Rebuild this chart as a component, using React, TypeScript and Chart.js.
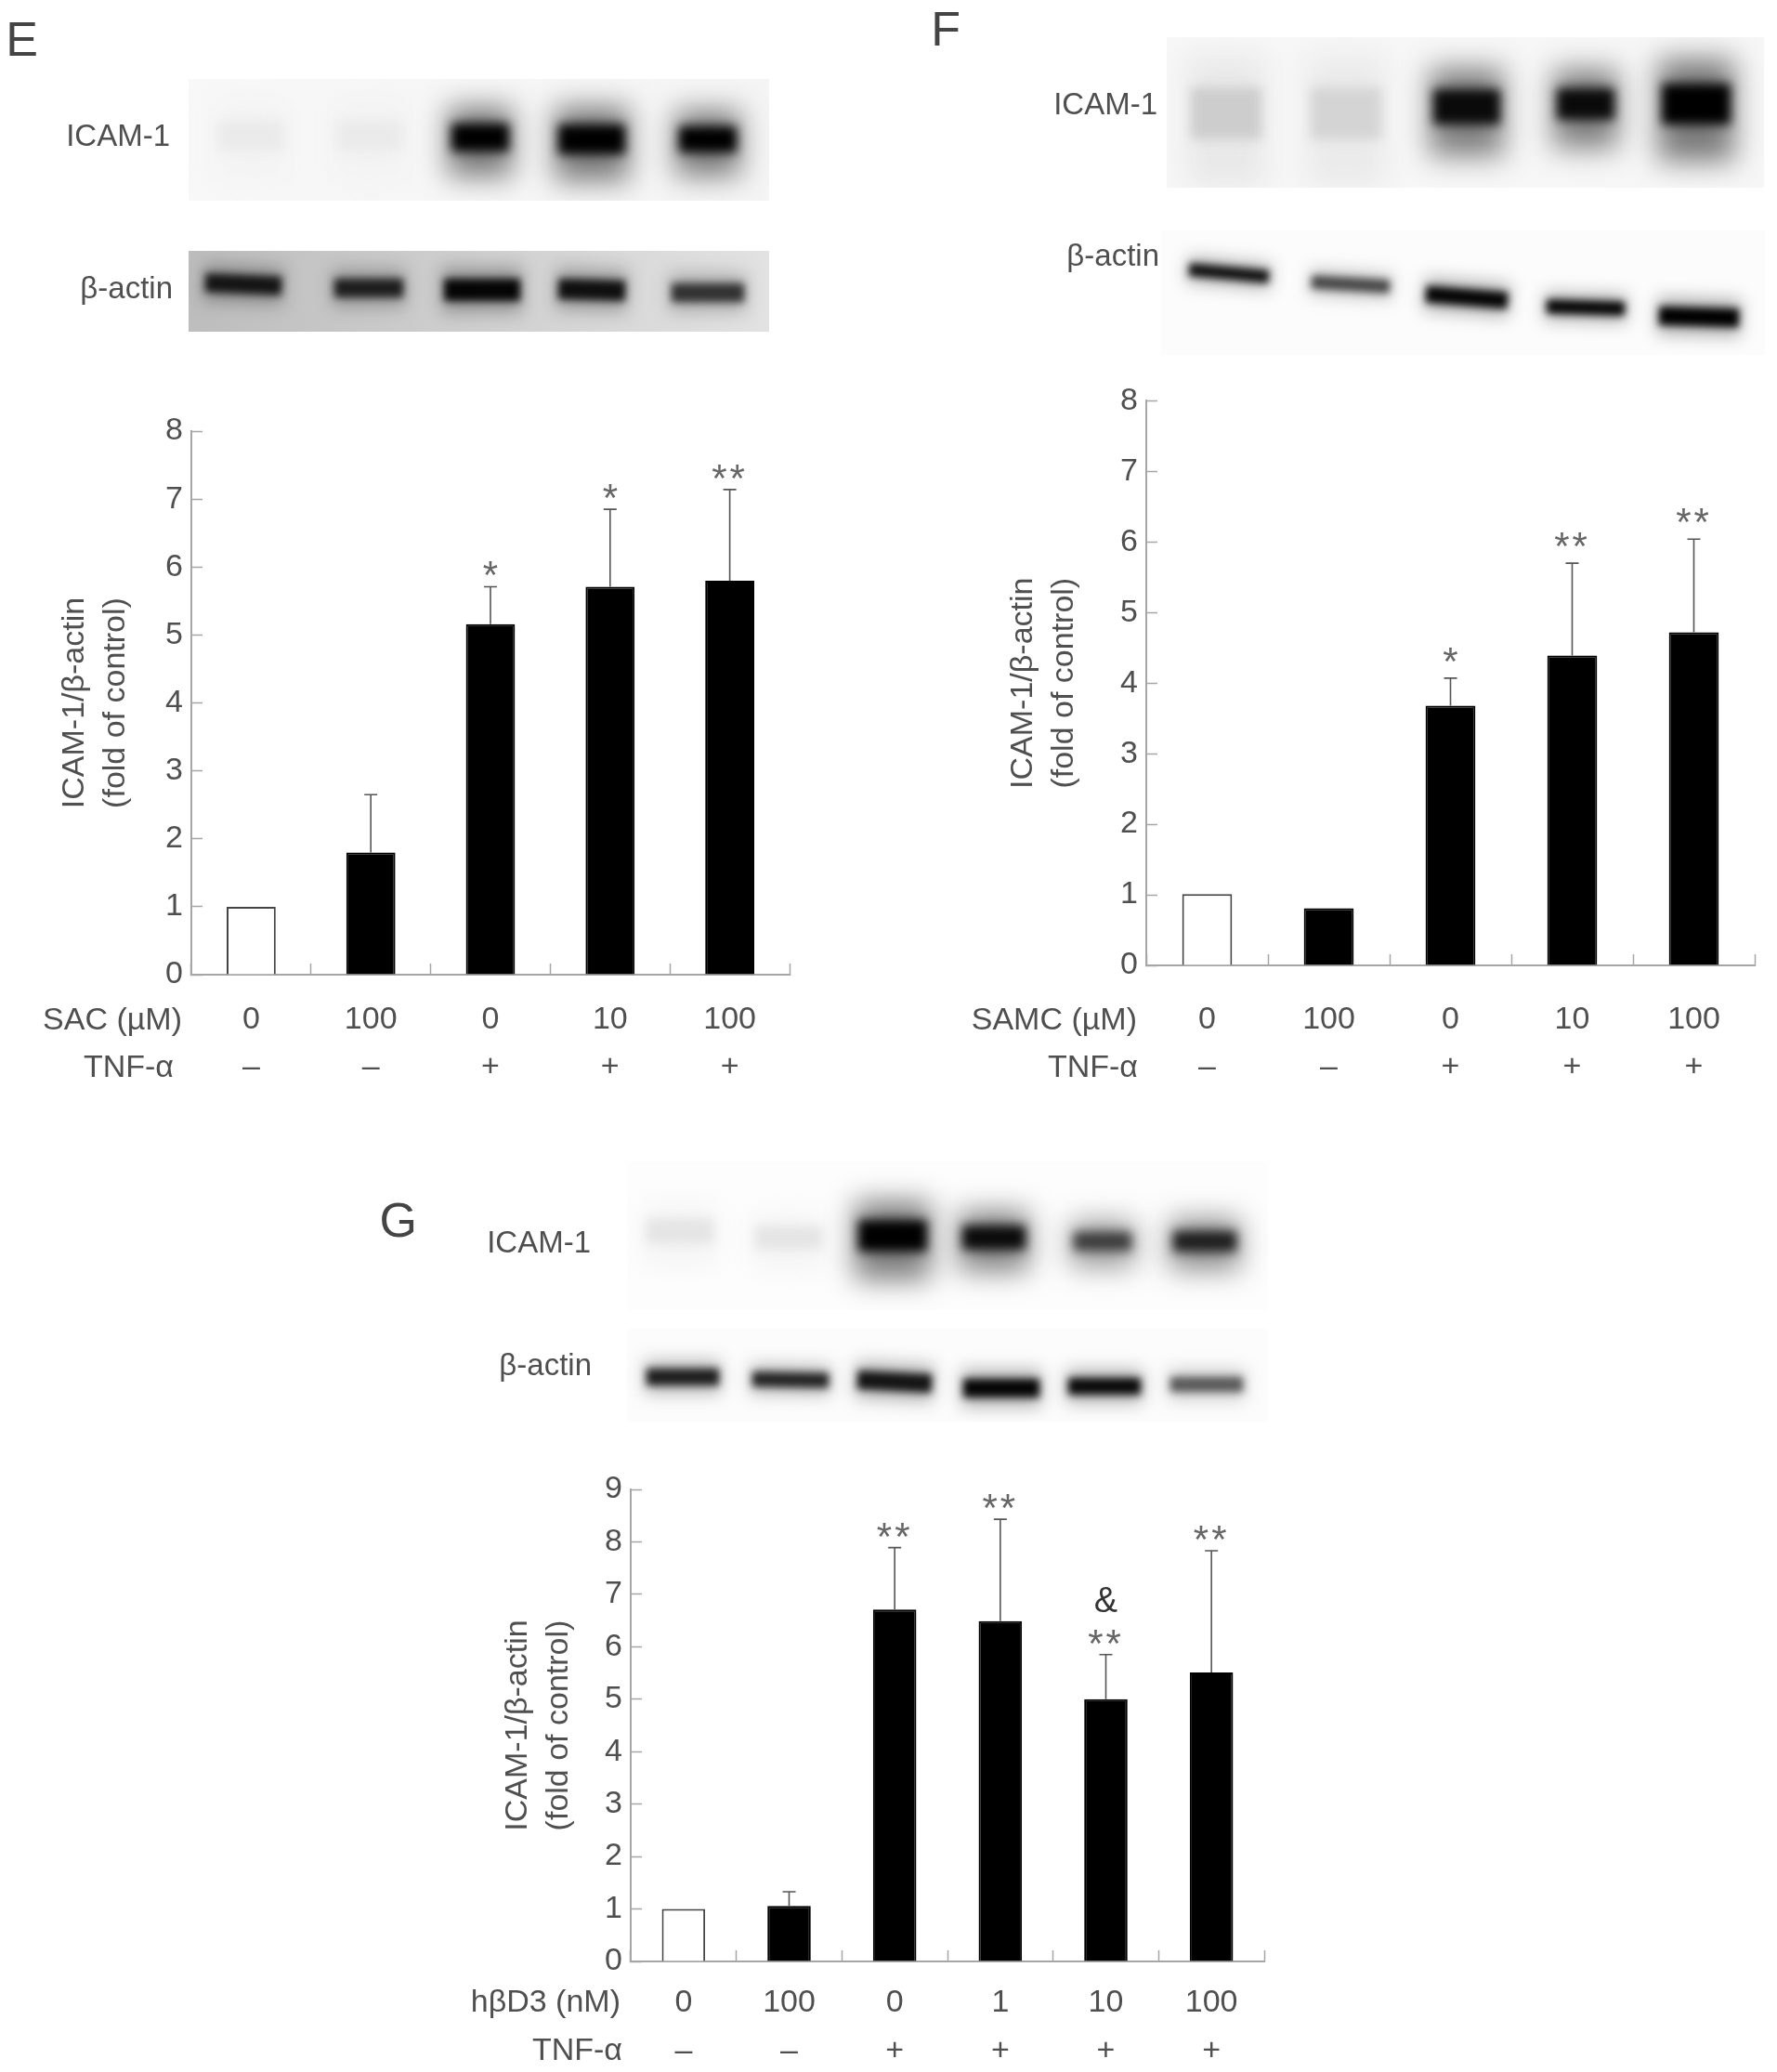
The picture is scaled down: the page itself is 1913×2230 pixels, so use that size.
import React, { useEffect, useRef } from "react";
import { Chart, registerables } from "chart.js";

Chart.register(...registerables);

// ---- chart values ----
const sacDoses = ["0", "100", "0", "10", "100"];
const sacTnf = ["–", "–", "+", "+", "+"];
const sacValues = [1.0, 1.8, 5.16, 5.71, 5.8];
const sacErrTops = [null, 2.65, 5.71, 6.85, 7.14];
const sacStars = ["", "", "*", "*", "**"];
const sacAmps = ["", "", "", "", ""];

const samcDoses = ["0", "100", "0", "10", "100"];
const samcTnf = ["–", "–", "+", "+", "+"];
const samcValues = [1.01, 0.81, 3.68, 4.39, 4.72];
const samcErrTops = [null, null, 4.07, 5.7, 6.04];
const samcStars = ["", "", "*", "**", "**"];
const samcAmps = ["", "", "", "", ""];

const hbdDoses = ["0", "100", "0", "1", "10", "100"];
const hbdTnf = ["–", "–", "+", "+", "+", "+"];
const hbdValues = [1.0, 1.06, 6.71, 6.49, 5.0, 5.51];
const hbdErrTops = [null, 1.33, 7.89, 8.43, 5.85, 7.83];
const hbdStars = ["", "", "**", "**", "**", "**"];
const hbdAmps = ["", "", "", "", "&", ""];

const yTitle = ["ICAM-1/β-actin", "(fold of control)"];

// ---- blot pictures (decoration, not data): [cx, cy, w, h, grey, tilt] ----
type Band = [number, number, number, number, number, number?];
const blotBoxes: { x: number; y: number; w: number; h: number; from: string; to: string }[] = [
  { x: 203, y: 85, w: 625, h: 131, from: "#f8f8f8", to: "#f4f4f4" },
  { x: 203, y: 270, w: 625, h: 87, from: "#bdbdbd", to: "#e2e2e2" },
  { x: 1256, y: 40, w: 643, h: 162, from: "#f7f7f7", to: "#f6f6f6" },
  { x: 1250, y: 248, w: 650, h: 134, from: "#fcfcfc", to: "#fcfcfc" },
  { x: 675, y: 1250, w: 690, h: 160, from: "#fdfdfd", to: "#fdfdfd" },
  { x: 675, y: 1430, w: 690, h: 100, from: "#fcfcfc", to: "#fcfcfc" },
];
const icamBandsE: Band[] = [
  [270, 146, 70, 32, 234], [398, 146, 70, 32, 234],
  [517, 148, 62, 30, 0], [637, 150, 72, 32, 0], [762, 150, 62, 28, 0],
];
const actinBandsE: Band[] = [
  [262, 306, 82, 20, 20, 0.04], [397, 310, 74, 20, 30], [519, 312, 82, 24, 5], [637, 312, 72, 22, 15, 0.03], [762, 315, 78, 20, 50],
];
const icamBandsF: Band[] = [
  [1320, 122, 76, 56, 205], [1449, 122, 76, 56, 212],
  [1579, 115, 72, 38, 10], [1707, 112, 62, 34, 10], [1826, 112, 74, 44, 0],
];
const actinBandsF: Band[] = [
  [1323, 294, 86, 14, 15, 0.09], [1454, 306, 84, 14, 70, 0.06], [1579, 320, 88, 18, 5, 0.08], [1707, 331, 84, 15, 5, 0.03], [1829, 341, 86, 20, 0, 0.03],
];
const icamBandsG: Band[] = [
  [732, 1325, 72, 26, 228], [849, 1332, 72, 24, 228],
  [961, 1330, 74, 34, 0], [1070, 1332, 68, 26, 10], [1187, 1336, 62, 20, 60], [1297, 1336, 68, 22, 30],
];
const actinBandsG: Band[] = [
  [735, 1482, 78, 18, 30], [851, 1485, 82, 16, 35, 0.02], [963, 1487, 80, 20, 20, 0.05], [1078, 1494, 82, 20, 5], [1189, 1492, 78, 18, 10], [1299, 1490, 78, 16, 90],
];
const allBands = [icamBandsE, actinBandsE, icamBandsF, actinBandsF, icamBandsG, actinBandsG];

// ---- page texts ----
const FONT = '"Liberation Sans", Arial, sans-serif';
const TEXT = "#4f4f4f";
const AXIS = "#a6a6a6";
const pageTexts = [
  { t: "E", right: 41, cy: 42, size: 52, c: "#444444" },
  { t: "F", right: 1034, cy: 31, size: 52, c: "#444444" },
  { t: "G", right: 449, cy: 1313, size: 52, c: "#444444" },
  { t: "ICAM-1", right: 183, cy: 146, size: 33, c: TEXT },
  { t: "β-actin", right: 186, cy: 310, size: 33, c: TEXT },
  { t: "ICAM-1", right: 1246, cy: 112, size: 33, c: TEXT },
  { t: "β-actin", right: 1248, cy: 275, size: 33, c: TEXT },
  { t: "ICAM-1", right: 636, cy: 1337, size: 33, c: TEXT },
  { t: "β-actin", right: 637, cy: 1469, size: 33, c: TEXT },
];

type PanelCfg = {
  doses: string[]; tnf: string[]; values: number[]; errTops: (number | null)[];
  stars: string[]; amps: string[]; yMax: number; rowName: string;
  left: number; top: number; width: number; height: number;
  axisX: number; axisRight: number; axisTop: number; axisBottom: number;
  titleCx: number; labelPad: number; rowRight: number; tnfRight: number; rowGap: number; row1: number; starLift: number;
};

const panels: PanelCfg[] = [
  {
    doses: sacDoses, tnf: sacTnf, values: sacValues, errTops: sacErrTops, stars: sacStars, amps: sacAmps,
    yMax: 8, rowName: "SAC (µM)", left: 0, top: 420, width: 880, height: 780,
    axisX: 206, axisRight: 850, axisTop: 464, axisBottom: 1049,
    titleCx: 81, labelPad: 35, rowRight: 196, tnfRight: 187, rowGap: 51, row1: 50, starLift: 3,
  },
  {
    doses: samcDoses, tnf: samcTnf, values: samcValues, errTops: samcErrTops, stars: samcStars, amps: samcAmps,
    yMax: 8, rowName: "SAMC (µM)", left: 1000, top: 390, width: 913, height: 800,
    axisX: 1234, axisRight: 1889, axisTop: 427, axisBottom: 1039,
    titleCx: 1102, labelPad: 45, rowRight: 1224, tnfRight: 1225, rowGap: 51, row1: 60, starLift: 9,
  },
  {
    doses: hbdDoses, tnf: hbdTnf, values: hbdValues, errTops: hbdErrTops, stars: hbdStars, amps: hbdAmps,
    yMax: 9, rowName: "hβD3 (nM)", left: 500, top: 1560, width: 900, height: 670,
    axisX: 679, axisRight: 1361, axisTop: 1603, axisBottom: 2111,
    titleCx: 558, labelPad: 31, rowRight: 668, tnfRight: 670, rowGap: 52, row1: 45, starLift: 3,
  },
];

function Panel({ cfg }: { cfg: PanelCfg }) {
  const ref = useRef<HTMLCanvasElement | null>(null);
  useEffect(() => {
    if (!ref.current) return;
    const overlay = {
      id: "overlay",
      afterDatasetsDraw(chart: any) {
        const { ctx, scales } = chart;
        const x = scales.x;
        const y = scales.y;
        ctx.save();
        cfg.errTops.forEach((top, i) => {
          if (top == null) return;
          const px = x.getPixelForValue(i);
          const yTop = y.getPixelForValue(top);
          const yBase = y.getPixelForValue(cfg.values[i]);
          ctx.strokeStyle = "#555";
          ctx.lineWidth = 1.6;
          ctx.beginPath();
          ctx.moveTo(px, yBase);
          ctx.lineTo(px, yTop);
          ctx.moveTo(px - 7, yTop);
          ctx.lineTo(px + 7, yTop);
          ctx.stroke();
        });
        ctx.textAlign = "center";
        ctx.textBaseline = "alphabetic";
        cfg.stars.forEach((s, i) => {
          if (!s) return;
          const px = x.getPixelForValue(i);
          const top = cfg.errTops[i] ?? cfg.values[i];
          const py = y.getPixelForValue(top);
          ctx.fillStyle = "#666666";
          ctx.font = `42px ${FONT}`;
          (ctx as any).letterSpacing = s.length > 1 ? "3px" : "0px";
          ctx.fillText(s, px, py + 5 - cfg.starLift);
          (ctx as any).letterSpacing = "0px";
          if (cfg.amps[i]) {
            ctx.font = `38px ${FONT}`;
            ctx.fillStyle = "#333";
            ctx.fillText(cfg.amps[i], px, py - 46);
          }
        });
        // row captions to the left of the category labels
        ctx.font = `34px ${FONT}`;
        ctx.fillStyle = TEXT;
        ctx.textAlign = "right";
        ctx.textBaseline = "middle";
        const base = y.getPixelForValue(0);
        ctx.fillText(cfg.rowName, cfg.rowRight - cfg.left, base + cfg.row1);
        ctx.fillText("TNF-α", cfg.tnfRight - cfg.left, base + cfg.row1 + cfg.rowGap);
        ctx.restore();
      },
    };
    const chart = new Chart(ref.current, {
      type: "bar",
      data: {
        labels: cfg.doses.map((d, i) => [d, cfg.tnf[i]]),
        datasets: [
          {
            data: cfg.values,
            backgroundColor: cfg.tnf.map((_, i) => (i === 0 ? "#ffffff" : "#000000")),
            borderColor: cfg.tnf.map((_, i) => (i === 0 ? "#444444" : "#000000")),
            borderWidth: 2,
            barPercentage: 0.41,
            categoryPercentage: 1,
          },
        ],
      },
      options: {
        responsive: false,
        animation: false,
        layout: {
          padding: {
            left: 0,
            top: cfg.axisTop - cfg.top,
            right: cfg.left + cfg.width - cfg.axisRight,
            bottom: 0,
          },
        },
        plugins: { legend: { display: false }, tooltip: { enabled: false }, title: { display: false } },
        scales: {
          x: {
            type: "category",
            offset: true,
            afterFit: (s: any) => {
              s.height = cfg.top + cfg.height - cfg.axisBottom;
            },
            border: { color: AXIS, width: 2 },
            grid: { display: true, offset: true, drawOnChartArea: false, tickLength: -12, tickColor: AXIS, tickWidth: 1.5 },
            ticks: {
              color: TEXT,
              font: { family: FONT, size: 34, lineHeight: cfg.rowGap / 34 },
              padding: cfg.labelPad,
              autoSkip: false,
              maxRotation: 0,
              minRotation: 0,
            },
          },
          y: {
            min: 0,
            max: cfg.yMax,
            afterFit: (s: any) => {
              s.width = cfg.axisX - cfg.left;
            },
            border: { color: AXIS, width: 2 },
            grid: { display: true, drawOnChartArea: false, tickLength: -12, tickColor: AXIS, tickWidth: 1.5 },
            ticks: { stepSize: 1, color: TEXT, font: { family: FONT, size: 34 }, padding: 21 },
            title: {
              display: true,
              text: yTitle,
              color: TEXT,
              font: { family: FONT, size: 34, lineHeight: 1.27 },
              padding: { top: cfg.titleCx - cfg.left - 21.5, bottom: 0 },
            },
          },
        },
      },
      plugins: [overlay],
    } as any);
    return () => chart.destroy();
  }, [cfg]);
  return (
    <canvas
      ref={ref}
      width={cfg.width}
      height={cfg.height}
      style={{ position: "absolute", left: cfg.left, top: cfg.top, width: cfg.width, height: cfg.height }}
    />
  );
}

function Blots() {
  const ref = useRef<HTMLCanvasElement | null>(null);
  useEffect(() => {
    const ctx = ref.current?.getContext("2d");
    if (!ctx) return;
    blotBoxes.forEach((b, i) => {
      ctx.save();
      ctx.beginPath();
      ctx.rect(b.x, b.y, b.w, b.h);
      ctx.clip();
      const g = ctx.createLinearGradient(b.x, 0, b.x + b.w, 0);
      g.addColorStop(0, b.from);
      g.addColorStop(1, b.to);
      ctx.fillStyle = g;
      ctx.fillRect(b.x, b.y, b.w, b.h);
      const isIcam = i % 2 === 0;
      allBands[i].forEach(([cx, cy, w, h, grey, tilt]) => {
        ctx.save();
        ctx.translate(cx, cy);
        ctx.rotate(tilt ?? 0);
        ctx.fillStyle = `rgb(${grey},${grey},${grey})`;
        if (isIcam) {
          ctx.filter = "blur(15px)";
          ctx.globalAlpha = grey > 150 ? 0.35 : 0.5;
          ctx.fillRect(-w / 2 - 4, -h * 1.1, w + 8, h * 2.5);
          ctx.filter = "blur(6px)";
          ctx.globalAlpha = 1;
        } else {
          ctx.filter = "blur(9px)";
          ctx.globalAlpha = 0.3;
          ctx.fillRect(-w / 2 - 2, -h, w + 4, h * 2);
          ctx.filter = "blur(4px)";
          ctx.globalAlpha = 1;
        }
        ctx.fillRect(-w / 2, -h / 2, w, h);
        ctx.restore();
      });
      ctx.restore();
    });
  }, []);
  return <canvas ref={ref} width={1913} height={1560} style={{ position: "absolute", left: 0, top: 0 }} />;
}

export default function App() {
  return (
    <div style={{ position: "absolute", left: 0, top: 0, width: 1913, height: 2230, background: "#fff", overflow: "hidden" }}>
      <Blots />
      {pageTexts.map((p, i) => (
        <div
          key={i}
          style={{
            position: "absolute",
            right: 1913 - p.right,
            top: p.cy - p.size,
            height: p.size * 2,
            lineHeight: `${p.size * 2}px`,
            fontFamily: FONT,
            fontSize: p.size,
            color: p.c,
            whiteSpace: "nowrap",
          }}
        >
          {p.t}
        </div>
      ))}
      {panels.map((c, i) => (
        <Panel key={i} cfg={c} />
      ))}
    </div>
  );
}
